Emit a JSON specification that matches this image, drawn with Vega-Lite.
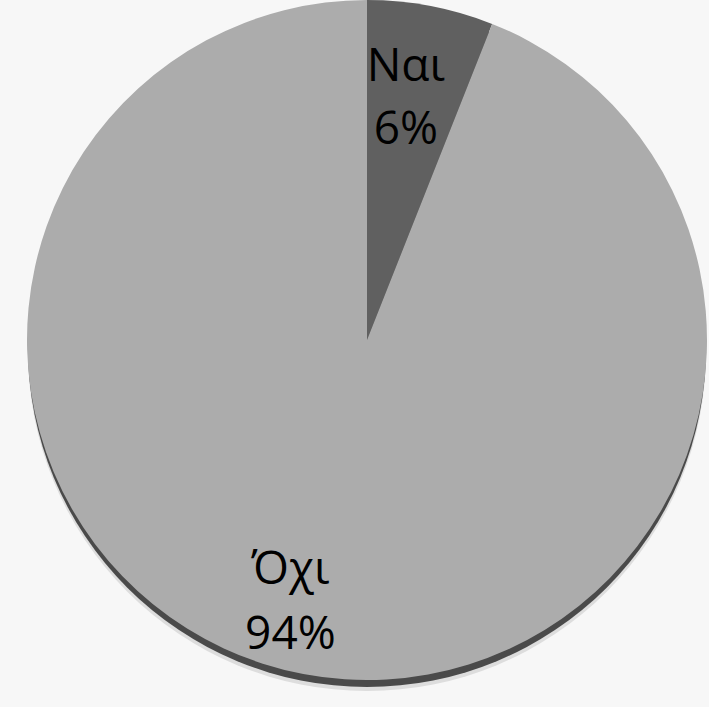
{
  "$schema": "https://vega.github.io/schema/vega-lite/v6.json",
  "autosize": {"type": "fit", "contains": "padding"},
  "width": 709,
  "height": 707,
  "padding": {"left": 25, "right": 0, "top": 0, "bottom": 27},
  "background": "#f7f7f7",
  "config": {"view": {"stroke": null}},
  "data": {
    "values": [
      {"category": "Ναι", "value": 6, "label": "Ναι\n6%", "rank": 1},
      {"category": "Όχι", "value": 94, "label": "Όχι\n94%", "rank": 2}
    ]
  },
  "layer": [
    {
      "mark": {"type": "arc", "radius": 339, "yOffset": 12, "color": "#d6d6d6", "opacity": 0.8},
      "encoding": {"theta": {"aggregate": "sum", "field": "value", "type": "quantitative"}}
    },
    {
      "mark": {"type": "arc", "radius": 339, "yOffset": 8, "color": "#4a4a4a"},
      "encoding": {"theta": {"aggregate": "sum", "field": "value", "type": "quantitative"}}
    },
    {
      "mark": {"type": "arc", "radius": 340},
      "encoding": {
        "theta": {"field": "value", "type": "quantitative", "stack": true},
        "order": {"field": "rank", "type": "ordinal"},
        "color": {
          "field": "category",
          "type": "nominal",
          "scale": {"domain": ["Ναι", "Όχι"], "range": ["#606060", "#acacac"]},
          "legend": null
        }
      }
    },
    {
      "mark": {"type": "text", "radius": 245, "dx": -7, "dy": -32, "font": "Open Sans", "fontSize": 46, "lineBreak": "\n", "lineHeight": 63, "color": "#000000", "baseline": "middle", "align": "center"},
      "encoding": {
        "theta": {"field": "value", "type": "quantitative", "stack": true},
        "order": {"field": "rank", "type": "ordinal"},
        "text": {"condition": {"test": "datum.category === 'Ναι'", "field": "label"}, "value": ""}
      }
    },
    {
      "mark": {"type": "text", "radius": 270, "dx": -26, "dy": -35, "font": "Open Sans", "fontSize": 46, "lineBreak": "\n", "lineHeight": 65, "color": "#000000", "baseline": "middle", "align": "center"},
      "encoding": {
        "theta": {"field": "value", "type": "quantitative", "stack": true},
        "order": {"field": "rank", "type": "ordinal"},
        "text": {"condition": {"test": "datum.category === 'Όχι'", "field": "label"}, "value": ""}
      }
    }
  ]
}
